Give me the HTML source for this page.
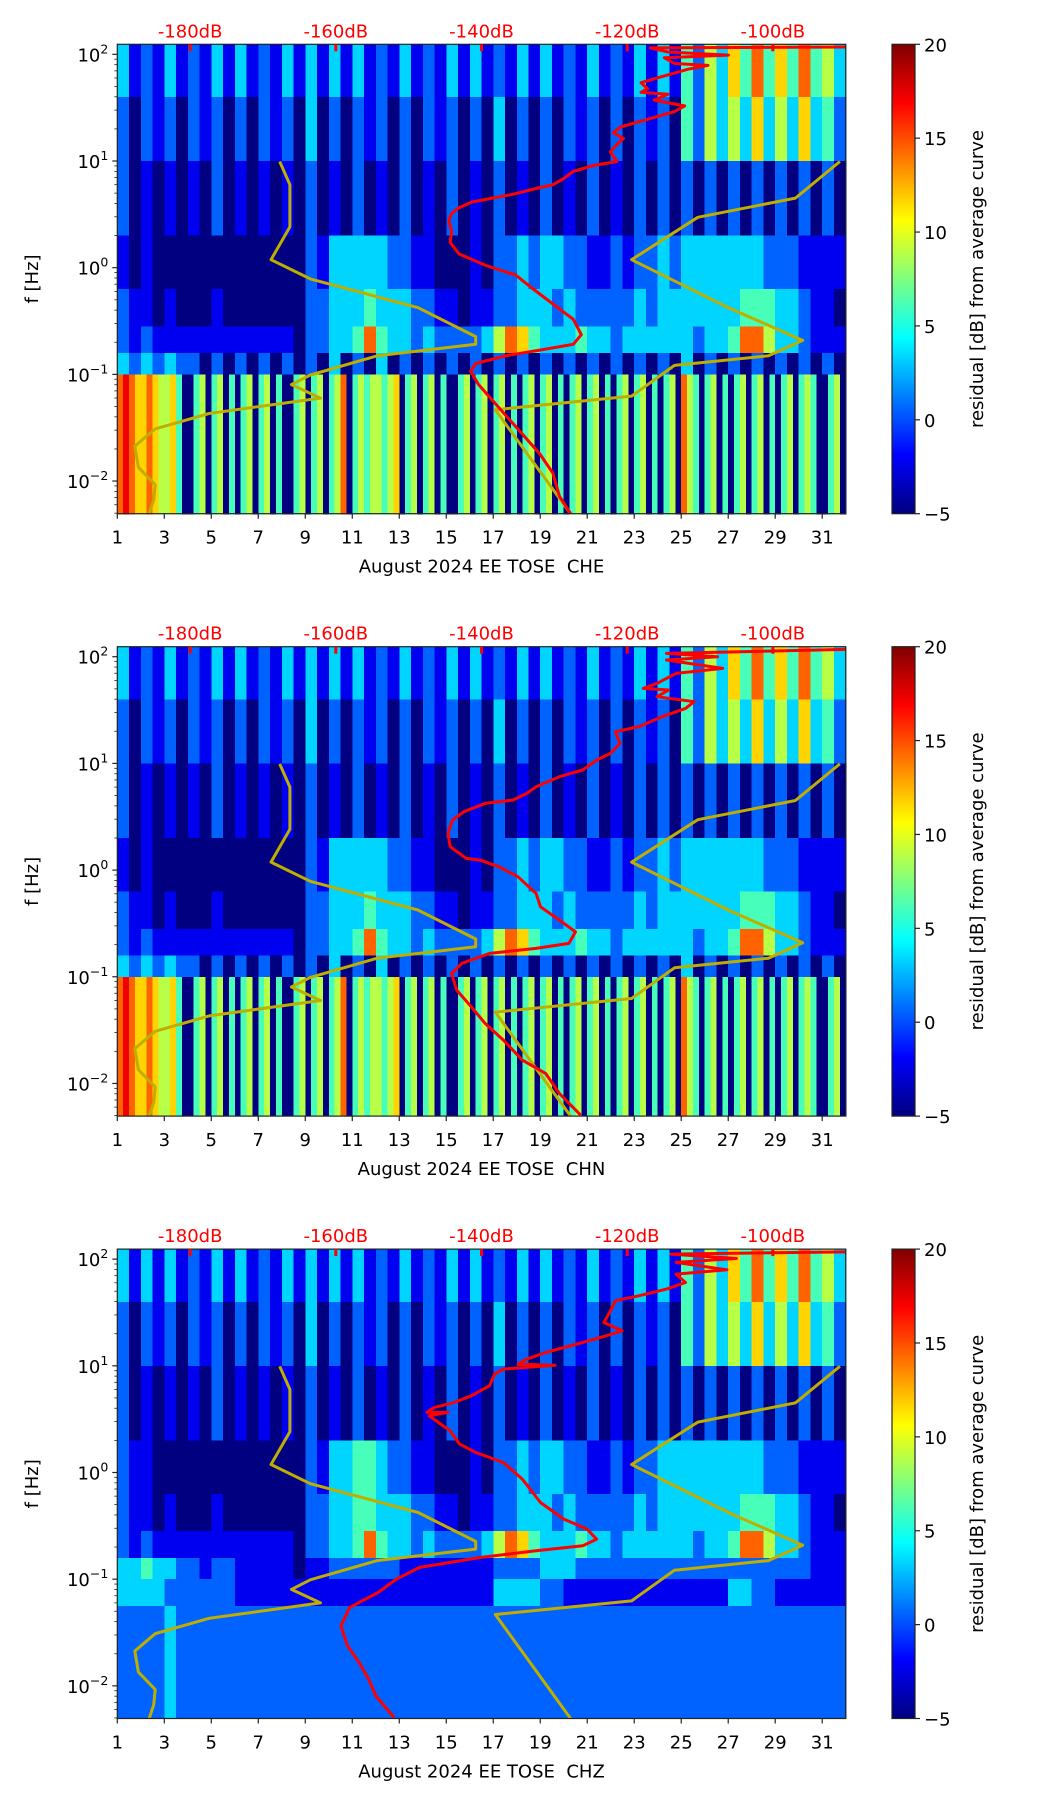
<!DOCTYPE html>
<html><head><meta charset="utf-8"><title>EE TOSE August 2024 residual spectrograms (CHE, CHN, CHZ)</title>
<style>
html,body{margin:0;padding:0;background:#fff;}
svg{display:block;font-family:"DejaVu Sans","Liberation Sans",sans-serif;}
</style></head>
<body>
<svg id="fig" xmlns="http://www.w3.org/2000/svg" width="1052" height="1806" viewBox="0 0 1052 1806">
<defs>
<linearGradient id="jetGrad" x1="0" y1="1" x2="0" y2="0">
<stop offset="0" stop-color="#00007f"/><stop offset="0.125" stop-color="#0000ff"/>
<stop offset="0.375" stop-color="#00ffff"/><stop offset="0.625" stop-color="#ffff00"/>
<stop offset="0.875" stop-color="#ff0000"/><stop offset="1" stop-color="#7f0000"/>
</linearGradient>
</defs>
</svg>
<script>
// ---- axis ranges ----
const dayMin = 1, dayMax = 32;
const logFMax = 2.094, logFMin = -2.306;
const dbMin = -190, dbMax = -90;
const cbMin = -5, cbMax = 20;
const dayTicks = [1,3,5,7,9,11,13,15,17,19,21,23,25,27,29,31];
const decadeTicks = [2,1,0,-1,-2];
const dbTicks = [-180,-160,-140,-120,-100];
const cbTicks = [20,15,10,5,0,-5];
const channels = ["CHE","CHN","CHZ"];

// ---- spectrogram bands (log10 Hz edges) and per-day levels (digit 0..9 -> -5..20 dB), groups = days ----
const bandEdgesHV = [2.094,1.6,1.0,0.3,-0.2,-0.55,-0.8,-1.0,-2.306];
const bandEdgesZ = [2.094,1.6,1.0,0.3,-0.2,-0.55,-0.8,-1.0,-1.25,-2.306];

const cheBands = [
"31 21 31 21 31 31 21 31 31 31 31 21 31 21 31 31 21 31 31 21 31 21 31 31 42 53 64 74 64 74 53",
"20 21 20 21 20 20 21 20 30 20 21 20 20 21 20 20 30 20 20 21 20 20 21 20 42 53 53 63 53 63 42",
"20 10 10 10 20 10 10 10 20 10 20 10 20 10 20 10 20 10 20 10 20 10 20 20 20 20 20 20 20 20 20",
"10 10 00 00 00 00 00 00 21 33 33 32 21 10 00 10 22 32 33 22 11 21 22 32 33 33 33 32 22 11 11",
"21 10 10 00 10 00 00 00 22 33 34 33 32 21 10 11 22 33 32 32 22 22 32 33 33 33 34 44 33 21 10",
"21 21 11 11 11 11 11 10 22 33 47 43 32 32 22 23 57 64 33 34 33 23 33 33 32 33 47 75 33 21 11",
"32 32 32 20 20 20 20 20 20 30 20 30 20 20 20 20 20 20 20 20 20 20 20 20 30 20 20 20 20 20 20",
"7876 6765 5640 0450 4504 0450 4504 0045 0450 4570 4545 5456 0450 4504 0045 0450 4504 0450 4504 0450 4504 0450 4504 0450 7540 4504 0450 4504 0450 4540 0450"
];
const chnBands = [
"31 21 31 21 31 31 21 31 31 31 31 21 31 21 31 31 21 31 31 21 31 21 31 31 42 53 64 74 64 74 53",
"20 21 20 21 20 20 21 20 30 20 21 20 20 21 20 20 30 20 20 21 20 20 21 20 42 53 53 63 53 63 42",
"20 10 10 10 20 10 10 10 20 10 20 10 20 10 20 10 20 10 20 10 20 10 20 20 20 20 20 20 20 20 20",
"10 10 00 00 00 00 00 00 21 33 33 32 21 10 00 10 22 32 33 22 11 21 22 32 33 33 33 32 22 11 11",
"21 10 10 00 10 00 00 00 22 33 34 33 32 21 10 11 22 33 32 32 22 22 32 33 33 33 34 44 33 21 10",
"21 21 11 11 11 11 11 10 22 33 47 43 32 32 22 23 57 64 33 34 33 23 33 33 32 33 47 75 33 21 11",
"32 32 32 20 20 20 20 20 20 30 20 30 20 20 20 20 20 20 20 20 20 20 20 20 30 20 20 20 20 20 20",
"7876 6765 5640 0450 4504 0450 4504 0045 0450 4570 4545 5456 0450 4504 0045 0450 4504 0450 4504 0450 4504 0450 4504 0450 7540 4504 0450 4504 0450 4540 0450"
];
const chzBands = [
"31 31 31 21 31 31 21 31 31 31 31 21 31 21 31 31 21 31 31 21 31 21 31 31 42 53 64 74 64 74 53",
"20 21 20 21 20 20 21 20 30 20 21 20 20 21 20 20 30 20 20 21 20 20 21 20 42 53 53 63 53 63 42",
"20 10 10 10 20 10 10 10 20 10 20 10 20 10 20 10 20 10 20 10 20 10 20 20 20 20 20 20 20 20 20",
"21 10 00 00 00 00 00 00 21 33 44 32 21 10 00 10 22 32 33 22 11 21 22 33 33 33 33 32 22 11 11",
"21 10 10 00 10 00 00 00 22 33 44 33 32 21 10 11 22 33 32 32 22 22 32 33 33 33 34 44 33 21 10",
"21 21 11 11 11 11 11 10 22 33 47 43 32 32 22 23 57 64 33 34 33 23 33 33 32 33 47 75 33 21 11",
"33 43 32 21 22 11 11 10 11 22 22 22 11 11 11 11 22 22 33 32 22 22 22 22 22 22 22 22 22 21 11",
"33 33 22 22 22 11 11 11 11 11 11 11 11 11 11 11 33 33 22 11 11 11 11 11 11 11 33 22 11 11 11",
"22 22 32 22 22 22 22 22 22 22 22 22 22 22 22 22 22 22 22 22 22 22 22 22 22 22 22 22 22 22 22"
];

// ---- red PSD curves (dB, log10 Hz) ----
const cheDb = [-90,-116.8,-114.4,-106.1,-114.9,-113.5,-108.9,-111.7,-113.5,-115.4,-118.1,-117.2,-118.1,-114.4,-116.3,-112.1,-113.5,-117.2,-120.9,-121.9,-120.5,-121.4,-122.3,-121.4,-124.6,-127.4,-128.8,-130.2,-132.5,-135.7,-138.5,-141.3,-143.1,-144.1,-144.5,-144.1,-144.3,-143.1,-139.4,-135.3,-133.0,-130.2,-127.4,-126.3,-127.4,-132.0,-136.7,-140.8,-141.5,-140.4,-137.6,-134.8,-132.0,-130.2,-129.3,-127.6];
const cheLogF = [2.069,2.060,2.022,1.993,1.968,1.914,1.896,1.860,1.824,1.788,1.734,1.679,1.643,1.625,1.571,1.517,1.463,1.391,1.319,1.265,1.211,1.157,1.085,0.995,0.958,0.904,0.832,0.778,0.742,0.688,0.652,0.616,0.562,0.508,0.436,0.346,0.237,0.129,0.021,-0.069,-0.195,-0.339,-0.484,-0.628,-0.718,-0.772,-0.826,-0.898,-0.970,-1.096,-1.313,-1.529,-1.745,-1.925,-2.142,-2.322];
const chnDb = [-89.8,-114.6,-107.6,-114.6,-106.9,-113.3,-115.9,-117.8,-114.3,-115.9,-110.8,-112.0,-115.2,-118.4,-121.6,-121.0,-122.3,-124.2,-126.1,-129.3,-132.5,-133.8,-135.7,-139.5,-142.4,-144.0,-144.6,-144.3,-142.1,-140.2,-137.6,-135.0,-132.5,-131.9,-129.3,-127.1,-128.0,-132.5,-138.9,-142.7,-144.1,-143.4,-141.4,-139.5,-137.0,-134.4,-131.2,-129.3,-126.4];
const chnLogF = [2.069,2.031,2.000,1.969,1.891,1.844,1.750,1.703,1.688,1.625,1.578,1.516,1.438,1.344,1.297,1.188,1.094,1.031,0.938,0.875,0.781,0.719,0.656,0.625,0.547,0.469,0.344,0.219,0.110,0.094,0.031,-0.062,-0.219,-0.344,-0.469,-0.578,-0.687,-0.734,-0.781,-0.875,-0.969,-1.125,-1.281,-1.437,-1.594,-1.781,-1.906,-2.094,-2.297];
const chzDb = [-89.8,-114.0,-105.0,-113.3,-106.3,-113.3,-112.0,-114.6,-118.4,-121.6,-122.3,-123.2,-120.7,-122.9,-126.1,-131.2,-133.8,-135.0,-129.9,-137.0,-138.2,-138.9,-141.4,-144.0,-146.5,-147.5,-144.6,-147.2,-145.9,-144.3,-143.0,-140.8,-137.0,-134.4,-131.9,-128.7,-125.5,-124.2,-126.1,-132.5,-140.2,-148.5,-151.7,-154.2,-158.1,-159.3,-158.4,-156.8,-155.5,-154.5,-152.0];
const chzLogF = [2.069,2.047,2.006,1.969,1.900,1.860,1.781,1.719,1.656,1.610,1.516,1.406,1.328,1.281,1.219,1.125,1.063,1.016,1.006,0.969,0.922,0.813,0.719,0.650,0.610,0.563,0.563,0.531,0.469,0.391,0.266,0.188,0.094,-0.062,-0.281,-0.437,-0.531,-0.625,-0.687,-0.734,-0.797,-0.890,-1.000,-1.125,-1.265,-1.437,-1.625,-1.781,-1.937,-2.094,-2.297];

// ---- noise models (olive) ----
const nlnmDb = [-167.7,-166.3,-166.3,-168.9,-163.5,-148.7,-140.8,-140.8,-154.3,-163.5,-166.1,-162.1,-177.4,-184.8,-187.6,-187.1,-184.8,-185.0,-185.7];
const nlnmLogF = [0.995,0.778,0.382,0.075,-0.105,-0.375,-0.646,-0.718,-0.826,-1.006,-1.096,-1.222,-1.367,-1.511,-1.673,-1.871,-2.034,-2.178,-2.322];
const nhnmDb = [-90.8,-96.9,-110.3,-119.4,-106.1,-95.9,-100.6,-113.5,-119.4,-138.1,-127.6];
const nhnmLogF = [0.995,0.652,0.472,0.075,-0.375,-0.682,-0.826,-0.916,-1.204,-1.331,-2.322];

const psdDb = [cheDb, chnDb, chzDb];
const psdLogF = [cheLogF, chnLogF, chzLogF];
const bandSets = [cheBands, chnBands, chzBands];
const edgeSets = [bandEdgesHV, bandEdgesHV, bandEdgesZ];

// ---- layout ----
const NS = "http://www.w3.org/2000/svg";
const svg = document.getElementById("fig");
const plotL = 117.3, plotR = 845.7, plotH = 469.4, panelTop0 = 44.3, panelStep = 602.4;
const cbL = 892, cbW = 23;
function xDay(d){ return plotL + (d - dayMin) / (dayMax - dayMin) * (plotR - plotL); }
function xDb(v){ return plotL + (v - dbMin) / (dbMax - dbMin) * (plotR - plotL); }
function yLog(top, lf){ return top + (logFMax - lf) / (logFMax - logFMin) * plotH; }
function yCb(top, v){ return top + (cbMax - v) / (cbMax - cbMin) * plotH; }
function jet(v){
  let t = Math.max(0, Math.min(1, (v - cbMin) / (cbMax - cbMin)));
  const c = x => Math.round(255 * Math.max(0, Math.min(1, x)));
  return "rgb(" + c(1.5 - Math.abs(4*t - 3)) + "," + c(1.5 - Math.abs(4*t - 2)) + "," + c(1.5 - Math.abs(4*t - 1)) + ")";
}
function mk(tag, attrs, parent){
  const e = document.createElementNS(NS, tag);
  for (const k in attrs) e.setAttribute(k, attrs[k]);
  (parent || svg).appendChild(e);
  return e;
}

for (let p = 0; p < 3; p++){
  const top = panelTop0 + p * panelStep, bot = top + plotH;
  const g = mk("g", {});
  
  

  const clip = mk("clipPath", {id: "clip" + p}, svg.querySelector("defs"));
  mk("rect", {x: plotL, y: top, width: plotR - plotL, height: plotH}, clip);

  // spectrogram
  const hm = mk("g", {"shape-rendering": "crispEdges"}, g);
  
  
  const bands = bandSets[p], edges = edgeSets[p];
  for (let b = 0; b < bands.length; b++){
    const vals = bands[b].replace(/\s+/g, "");
    const n = vals.length;
    const y0 = yLog(top, edges[b]), y1 = yLog(top, edges[b+1]);
    for (let i = 0; i < n; i++){
      const v = cbMin + parseInt(vals[i]) * (cbMax - cbMin) / 9;
      const d0 = dayMin + i * 31 / n, d1 = dayMin + (i + 1) * 31 / n;
      const r = mk("rect", {x: xDay(d0).toFixed(2), y: y0.toFixed(2), width: (xDay(d1) - xDay(d0) + 0.6).toFixed(2), height: (y1 - y0 + 0.6).toFixed(2), fill: jet(v)}, hm);
      
      
    }
  }
  for (let b = 0; b < bands.length; b++){
    const vals = bands[b].replace(/\s+/g, "");
    const v = cbMin + parseInt(vals[vals.length - 1]) * (cbMax - cbMin) / 9;
    const y0 = yLog(top, edges[b]), y1 = yLog(top, edges[b+1]);
    const r = mk("rect", {x: xDay(32 - 0.001).toFixed(2), y: y0.toFixed(2), width: 1, height: (y1 - y0 + 0.6).toFixed(2), fill: jet(v)}, hm);
    
    
  }

  // noise model lines and PSD
  const lines = mk("g", {"clip-path": "url(#clip" + p + ")"}, g);
  const ptsOf = (dbs, lfs) => dbs.map((v, i) => xDb(v).toFixed(1) + "," + yLog(top, lfs[i]).toFixed(1)).join(" ");
  const l1 = mk("polyline", {points: ptsOf(nlnmDb, nlnmLogF), fill: "none", stroke: "#bfae00", "stroke-width": 3, "stroke-linejoin": "round"}, lines);
  
  
  const l2 = mk("polyline", {points: ptsOf(nhnmDb, nhnmLogF), fill: "none", stroke: "#bfae00", "stroke-width": 3, "stroke-linejoin": "round"}, lines);
  
  
  const l3 = mk("polyline", {points: ptsOf(psdDb[p], psdLogF[p]), fill: "none", stroke: "#ff0000", "stroke-width": 3, "stroke-linejoin": "round"}, lines);
  
  

  // frame
  const fr = mk("rect", {x: plotL, y: top, width: plotR - plotL, height: plotH, fill: "none", stroke: "#222", "stroke-width": 1.2}, g);
  
  

  // x ticks
  dayTicks.forEach(d => {
    const x = xDay(d);
    mk("line", {x1: x, y1: bot, x2: x, y2: bot + 5, stroke: "#222", "stroke-width": 1.2}, g);
    const t = mk("text", {x: x, y: bot + 30, "font-size": 18, "text-anchor": "middle", fill: "#000"}, g);
    t.textContent = d;
    
    
  });
  const xl = mk("text", {x: (plotL + plotR) / 2, y: bot + 59, "font-size": 18, "text-anchor": "middle", fill: "#000"}, g);
  xl.textContent = "August 2024 EE TOSE\u00A0 " + channels[p];
  
  

  // y ticks (log)
  for (let dec = -3; dec <= 2; dec++){
    for (let m = 1; m <= 9; m++){
      const lf = dec + Math.log10(m);
      if (lf < logFMin || lf > logFMax) continue;
      const y = yLog(top, lf);
      mk("line", {x1: plotL - (m === 1 ? 5 : 3), y1: y, x2: plotL, y2: y, stroke: "#222", "stroke-width": m === 1 ? 1.2 : 0.8}, g);
    }
  }
  decadeTicks.forEach(dec => {
    const y = yLog(top, dec);
    const t = mk("text", {x: plotL - 9, y: y + 7, "font-size": 18, "text-anchor": "end", fill: "#000"}, g);
    
    
    const a = mk("tspan", {}, t); a.textContent = "10";
    const e = mk("tspan", {"font-size": 12.5, dy: -8}, t); e.textContent = dec < 0 ? "\u2212" + (-dec) : String(dec);
  });
  const yl = mk("text", {x: 38, y: top + plotH / 2, "font-size": 18, "text-anchor": "middle", fill: "#000", transform: "rotate(-90 38 " + (top + plotH / 2) + ")"}, g);
  yl.textContent = "f [Hz]";
  
  

  // top dB labels
  dbTicks.forEach(v => {
    const x = xDb(v);
    mk("rect", {x: x - 1.5, y: top, width: 3, height: 7, fill: "#ff0000"}, g);
    const t = mk("text", {x: x, y: top - 7, "font-size": 18, "text-anchor": "middle", fill: "#ff0000"}, g);
    t.textContent = v + "dB";
    
    
  });

  // colorbar
  const cb = mk("rect", {x: cbL, y: top, width: cbW, height: plotH, fill: "url(#jetGrad)", stroke: "#222", "stroke-width": 1.2}, g);
  
  
  cbTicks.forEach(v => {
    const y = yCb(top, v);
    mk("line", {x1: cbL + cbW, y1: y, x2: cbL + cbW + 5, y2: y, stroke: "#222", "stroke-width": 1.2}, g);
    const t = mk("text", {x: cbL + cbW + 9, y: y + 7, "font-size": 18, fill: "#000"}, g);
    t.textContent = v < 0 ? "\u2212" + (-v) : String(v);
    
    
  });
  const cl = mk("text", {x: 983, y: top + plotH / 2, "font-size": 18, "text-anchor": "middle", fill: "#000", transform: "rotate(-90 983 " + (top + plotH / 2) + ")"}, g);
  cl.textContent = "residual [dB] from average curve";
  
  
}
</script>
</body></html>
